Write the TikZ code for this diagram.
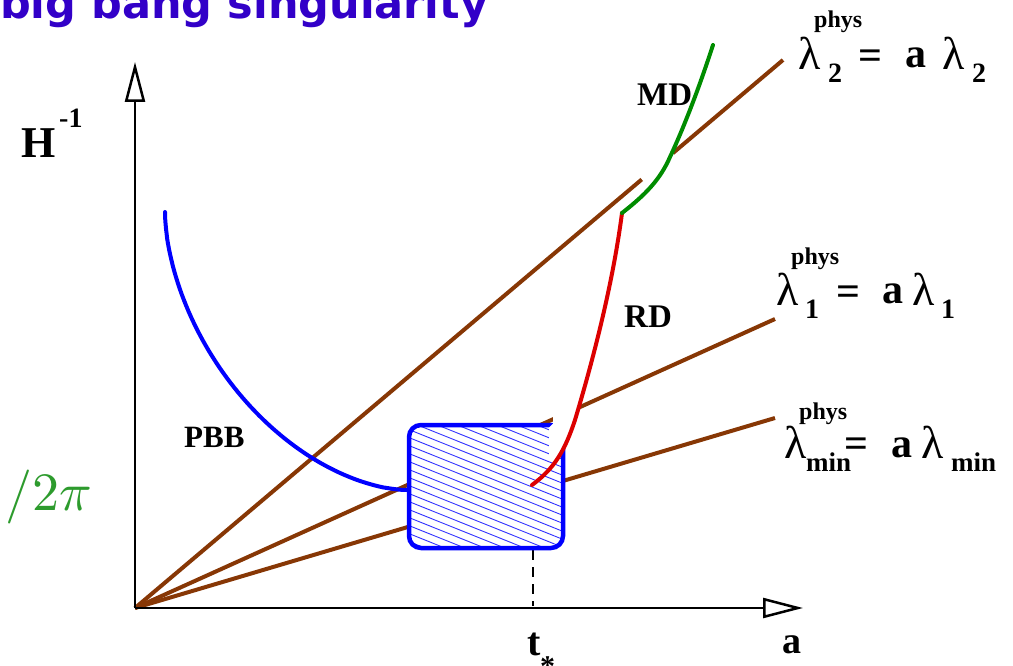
\documentclass[tikz,border=0pt]{standalone}
\usepackage{graphicx}
\usepackage{fontspec}
\setmainfont{Liberation Serif}
\newfontfamily\titlefont{DejaVu Sans}
\usetikzlibrary{arrows.meta,calc}
\definecolor{brn}{RGB}{135,55,5}
\definecolor{ttlblue}{RGB}{50,0,200}
\definecolor{txtgreen}{RGB}{45,155,45}
\definecolor{crvgreen}{RGB}{0,140,0}
\definecolor{crvred}{RGB}{220,0,0}
\newcommand\myfs[1]{\fontsize{#1}{#1}\selectfont}
\tikzset{
  lbl/.style={inner sep=0pt, anchor=base west, font={\bfseries\myfs{#1}}},
  lam/.style={inner sep=0pt, anchor=base west, font={\myfs{#1}}},
  axis/.style={line width=2.5pt, -{Triangle[length=40pt,width=20pt,fill=white]}},
  brline/.style={brn, line width=4pt},
  crv/.style={line width=4pt, line cap=round},
  hatch/.style={blue!80, line width=0.9pt},
}
\begin{document}
\begin{tikzpicture}[x=1pt,y=-1pt]
\useasboundingbox (0,0) rectangle (1013,666);
\clip (0,0) rectangle (1013,666);
% title and side text (cropped)
\node[inner sep=0pt, anchor=base west, font={\titlefont\bfseries\myfs{43}}, text=ttlblue] (title) at (0,19) {big bang singularity};
\node[inner sep=0pt, anchor=base east, font={\myfs{10}}, text=txtgreen] (lsl) at (92,510) {\scalebox{5.4}{$\ell_s/2\pi$}};
% coordinates
\coordinate (O) at (135,608);
\coordinate (Yend) at (135,62);
\coordinate (Xend) at (803,608);
\coordinate (L2) at (783,60);
\coordinate (L1) at (775,319);
\coordinate (Lm) at (775,418);
% brown lines
\draw[brline] (O) -- ($(O)!0.782!(L2)$);
\draw[brline] ($(O)!0.830!(L2)$) -- (L2);
\draw[brline] (O) -- (L1);
\draw[brline] (O) -- (Lm);
% axes
\draw[axis] (O) -- (Yend);
\draw[axis] (O) -- (Xend);
% PBB curve (superellipse)
\draw[blue, crv] (165,212) -- plot[domain=1:89, samples=70] ({407-242*cos(\x)^1.14},{212+278*sin(\x)^1.14}) -- (407,490);
% dashed
\coordinate (Tb) at (533,606);
\coordinate (Tt) at (533,550);
\draw[line width=2.5pt, dash pattern=on 10pt off 7pt] (Tt) -- (Tb);
% box
\fill[white, rounded corners=12pt] (409,425) rectangle (563,548);
\begin{scope}
\clip[rounded corners=12pt] (409,425) rectangle (563,548);
\foreach \k in {-5,...,24}{
  \draw[hatch] (405,380+\k*8) -- (567,380+\k*8+65);
}
\end{scope}
\draw[blue, line width=4.5pt, rounded corners=12pt] (409,425) rectangle (563,548);
% white patch at box corner
\fill[white] (553,398) -- (553,423.5) -- (549,427.5) -- (549,456) -- (560,458) -- (572,430) -- (581,402) -- cycle;
% RD and MD curves
\coordinate (RDs) at (532,485);
\coordinate (RDm) at (575,420);
\coordinate (J) at (622,213);
\coordinate (MDm) at (670,157);
\coordinate (MDe) at (713,45);
\draw[crvred, crv] (RDs) .. controls (555,468) and (565,450) .. (RDm) .. controls (590,370) and (612,290) .. (J);
\draw[crvgreen, crv] (J) .. controls (645,195) and (660,180) .. (MDm) .. controls (685,125) and (700,85) .. (MDe);
% labels
\node[lbl=44] (H) at (21,158) {H};
\node[lbl=28] (Hm) at (59,128) {-1};
\node[lbl=38] (a) at (782,653) {a};
\node[lbl=40] (t) at (527,655) {t};
\node[lbl=30] (ts) at (540,676) {*};
\node[lbl=31] (pbb) at (184,447) {PBB};
\node[lbl=33] (md) at (637,106) {MD};
\node[lbl=33] (rd) at (624,327) {RD};
% lambda_2
\node[lam=46] (a2) at (798,70) {λ};
\node[lbl=24] (a2p) at (814,28) {phys};
\node[lbl=28] (a2s) at (828,83) {2};
\node[lbl=42] (a2e) at (858,70) {=};
\node[lbl=42] (a2a) at (905,68) {a};
\node[lam=46] (a2l) at (942,70) {λ};
\node[lbl=28] (a2t) at (972,83) {2};
% lambda_1
\node[lam=46] (a1) at (776,305) {λ};
\node[lbl=24] (a1p) at (791,265) {phys};
\node[lbl=28] (a1s) at (805,318) {1};
\node[lbl=42] (a1e) at (836,305) {=};
\node[lbl=42] (a1a) at (882,303) {a};
\node[lam=46] (a1l) at (912,305) {λ};
\node[lbl=28] (a1t) at (941,318) {1};
% lambda_min
\node[lam=46] (am) at (784,458) {λ};
\node[lbl=24] (amp) at (799,419) {phys};
\node[lbl=27] (ams) at (806,471) {min};
\node[lbl=42] (ame) at (844,457) {=};
\node[lbl=42] (ama) at (891,457) {a};
\node[lam=46] (aml) at (921,458) {λ};
\node[lbl=27] (amt) at (951,471) {min};
\end{tikzpicture}
\end{document}
